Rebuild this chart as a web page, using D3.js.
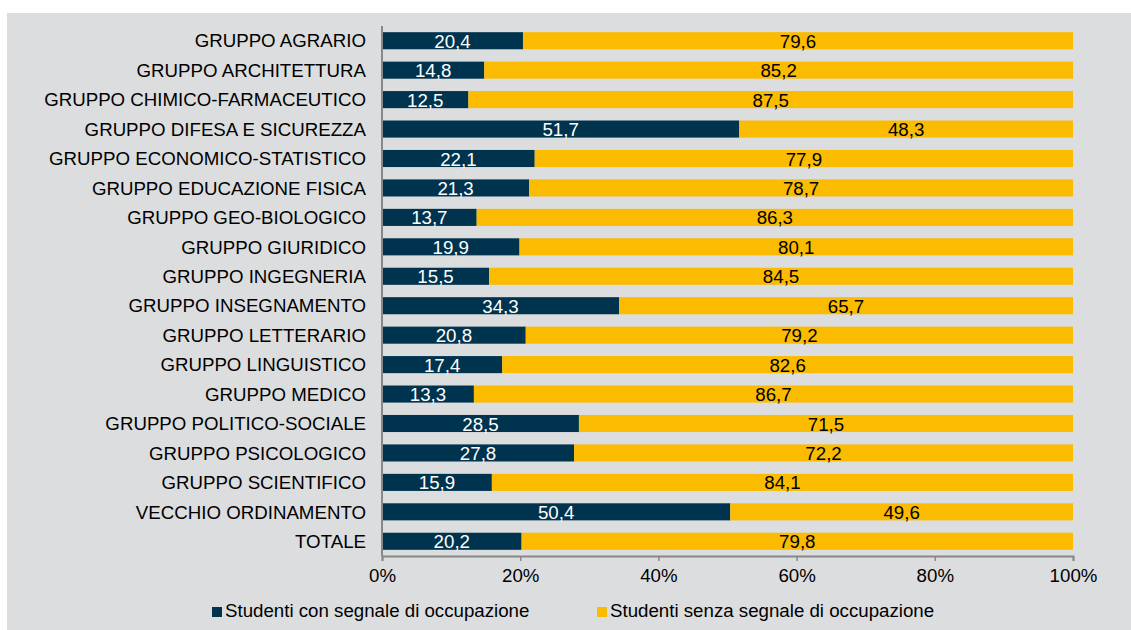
<!DOCTYPE html>
<html>
<head>
<meta charset="utf-8">
<script src="https://cdn.jsdelivr.net/npm/d3@7/dist/d3.min.js"></script>
<style>
  body { margin: 0; background: #fff; }
  text { font-family: "Liberation Sans", Arial, sans-serif; }
</style>
</head>
<body>
<svg id="chart" width="1131" height="630"></svg>
<script>
var categories = [
  "GRUPPO AGRARIO", "GRUPPO ARCHITETTURA", "GRUPPO CHIMICO-FARMACEUTICO",
  "GRUPPO DIFESA E SICUREZZA", "GRUPPO ECONOMICO-STATISTICO", "GRUPPO EDUCAZIONE FISICA",
  "GRUPPO GEO-BIOLOGICO", "GRUPPO GIURIDICO", "GRUPPO INGEGNERIA",
  "GRUPPO INSEGNAMENTO", "GRUPPO LETTERARIO", "GRUPPO LINGUISTICO",
  "GRUPPO MEDICO", "GRUPPO POLITICO-SOCIALE", "GRUPPO PSICOLOGICO",
  "GRUPPO SCIENTIFICO", "VECCHIO ORDINAMENTO", "TOTALE"
];
var conSegnale = [20.4, 14.8, 12.5, 51.7, 22.1, 21.3, 13.7, 19.9, 15.5, 34.3, 20.8, 17.4, 13.3, 28.5, 27.8, 15.9, 50.4, 20.2];
var senzaSegnale = [79.6, 85.2, 87.5, 48.3, 77.9, 78.7, 86.3, 80.1, 84.5, 65.7, 79.2, 82.6, 86.7, 71.5, 72.2, 84.1, 49.6, 79.8];
var seriesNames = ["Studenti con segnale di occupazione", "Studenti senza segnale di occupazione"];
var tickValues = [0, 20, 40, 60, 80, 100];

var colors = ["#00334e", "#fbbb00"];
var labelColors = ["#ffffff", "#000000"];
var fs = 18.7;

var svg = d3.select("#chart");

svg.append("rect")
    .attr("x", 7).attr("y", 13)
    .attr("width", 1124).attr("height", 617)
    .attr("fill", "#dcdddf");

var x = d3.scaleLinear().domain([0, 100]).range([382, 1073]);
var y = d3.scaleBand().domain(categories).range([26, 556]).paddingInner(0.42).paddingOuter(0.21);

var rows = categories.map(function (c, i) {
    return { cat: c, vals: [conSegnale[i], senzaSegnale[i]] };
});

var g = svg.append("g");

rows.forEach(function (r) {
    var start = 0;
    r.vals.forEach(function (v, k) {
        g.append("rect")
            .attr("x", x(start))
            .attr("y", y(r.cat))
            .attr("width", x(start + v) - x(start))
            .attr("height", y.bandwidth())
            .attr("fill", colors[k]);
        g.append("text")
            .attr("x", x(start + v / 2))
            .attr("y", y(r.cat) + y.bandwidth() / 2)
            .attr("dy", "0.38em")
            .attr("text-anchor", "middle")
            .attr("font-size", fs)
            .attr("fill", labelColors[k])
            .text(d3.format(".1f")(v).replace(".", ","));
        start += v;
    });
});

// category labels
svg.append("g").selectAll("text")
    .data(categories)
    .enter().append("text")
    .attr("x", 366)
    .attr("y", function (d) { return y(d) + y.bandwidth() / 2; })
    .attr("dy", "0.36em")
    .attr("text-anchor", "end")
    .attr("font-size", fs)
    .attr("fill", "#000")
    .text(function (d) { return d; });

// axes
var xAxis = svg.append("g")
    .attr("transform", "translate(0,556)")
    .call(d3.axisBottom(x).tickValues(tickValues).tickSize(5).tickPadding(8)
        .tickFormat(function (d) { return d + "%"; }));
xAxis.select(".domain").attr("stroke", "#888").attr("stroke-width", 2);
xAxis.selectAll(".tick line").attr("stroke", "#888").attr("stroke-width", 1.5);
xAxis.selectAll(".tick text").attr("font-size", fs).attr("fill", "#000")
    .style("font-family", "'Liberation Sans', Arial, sans-serif");

svg.append("line")
    .attr("x1", 382).attr("x2", 382)
    .attr("y1", 26).attr("y2", 556)
    .attr("stroke", "#888").attr("stroke-width", 2);

// legend
var legendX = [212, 597];
seriesNames.forEach(function (name, k) {
    svg.append("rect")
        .attr("x", legendX[k]).attr("y", 607)
        .attr("width", 10).attr("height", 10)
        .attr("fill", colors[k]);
    svg.append("text")
        .attr("x", legendX[k] + 13).attr("y", 610)
        .attr("dy", "0.36em")
        .attr("font-size", fs)
        .attr("fill", "#000")
        .text(name);
});
</script>
</body>
</html>
